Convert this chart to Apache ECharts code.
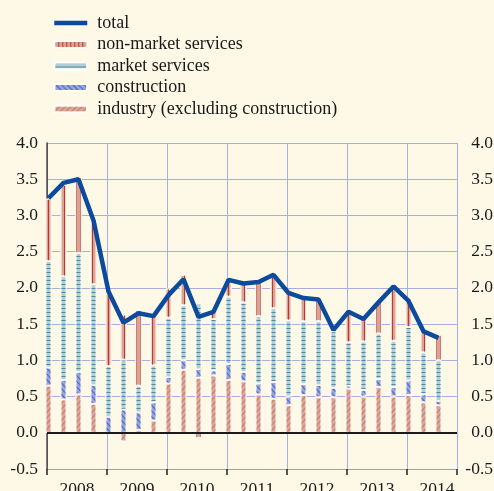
<!DOCTYPE html>
<html>
<head>
<meta charset="utf-8">
<script src="https://cdn.jsdelivr.net/npm/echarts@6/dist/echarts.min.js"></script>
<style>
  html, body { margin: 0; padding: 0; background: #fef9e6; }
  #chart { width: 494px; height: 491px; }
</style>
</head>
<body>
<div id="chart"></div>
<script>
// quarterly contributions, 2008Q1 .. 2014Q3 (last slot is empty room)
let quarters = [
  "2008Q1", "2008Q2", "2008Q3", "2008Q4",
  "2009Q1", "2009Q2", "2009Q3", "2009Q4",
  "2010Q1", "2010Q2", "2010Q3", "2010Q4",
  "2011Q1", "2011Q2", "2011Q3", "2011Q4",
  "2012Q1", "2012Q2", "2012Q3", "2012Q4",
  "2013Q1", "2013Q2", "2013Q3", "2013Q4",
  "2014Q1", "2014Q2", "2014Q3", "2014Q4",
];
let years = ["2008", "2009", "2010", "2011", "2012", "2013", "2014"];
let yTicks = [-0.5, 0, 0.5, 1, 1.5, 2, 2.5, 3, 3.5, 4];

let industry = [0.65, 0.46, 0.53, 0.40, 0.00, -0.12, 0.04, 0.17, 0.68, 0.87, 0.76, 0.79, 0.73, 0.71, 0.53, 0.47, 0.38, 0.52, 0.49, 0.49, 0.61, 0.50, 0.63, 0.50, 0.52, 0.42, 0.38];
let construction = [0.25, 0.27, 0.31, 0.26, 0.22, 0.32, 0.24, 0.25, 0.09, 0.13, 0.12, 0.07, 0.22, 0.13, 0.15, 0.23, 0.12, 0.15, 0.17, 0.13, 0.04, 0.09, 0.11, 0.13, 0.20, 0.11, 0.06];
let marketServices = [1.47, 1.43, 1.64, 1.39, 0.70, 0.69, 0.37, 0.51, 0.82, 0.76, 0.90, 0.71, 0.93, 0.96, 0.93, 1.02, 1.05, 0.87, 0.88, 0.78, 0.60, 0.67, 0.63, 0.64, 0.74, 0.58, 0.56];
let nonMarketServices = [0.86, 1.26, 1.04, 0.85, 1.00, 0.62, 1.04, 0.72, 0.40, 0.42, -0.07, 0.14, 0.23, 0.25, 0.47, 0.44, 0.39, 0.32, 0.31, 0.03, 0.44, 0.31, 0.43, 0.78, 0.40, 0.31, 0.35];
let total = [3.24, 3.45, 3.50, 2.93, 1.95, 1.52, 1.65, 1.61, 1.90, 2.12, 1.60, 1.67, 2.11, 2.06, 2.08, 2.18, 1.93, 1.86, 1.84, 1.42, 1.67, 1.57, 1.80, 2.02, 1.82, 1.40, 1.31];

let font = "Liberation Serif";
let textColor = "#1a1a1a";
let gridColor = "#a6afe0";
// frame axis counts in quarters, 15px each
let xMax = 27.33;

let yAxisBase = {
  type: "value",
  min: yTicks[0],
  max: yTicks[yTicks.length - 1],
  interval: 0.5,
};

let barSeries = (name, data, color, decal) => ({
  name: name,
  type: "bar",
  stack: "contrib",
  xAxisIndex: 2,
  yAxisIndex: 2,
  barWidth: 6,
  data: data,
  itemStyle: {
    color: color,
    borderColor: "#fffdf6",
    borderWidth: 0.8,
    decal: decal,
  },
});

let myChart = echarts.init(document.getElementById("chart"));
myChart.setOption({
  backgroundColor: "#fef9e6",
  animation: false,
  legend: {
    orient: "vertical",
    left: 47,
    top: 9,
    itemWidth: 33,
    itemHeight: 7,
    itemGap: 3.5,
    data: [
      {
        name: "total",
        itemStyle: { color: "rgba(0,0,0,0)", borderWidth: 0 },
        lineStyle: { color: "#0b4a9c", width: 4.5 },
      },
      "non-market services",
      "market services",
      "construction",
      "industry (excluding construction)",
    ],
    textStyle: {
      fontFamily: font,
      fontSize: 18,
      color: textColor,
      padding: [0, 0, 0, 5],
    },
  },
  grid: [
    // frame: year grid, labels, axes
    { left: 47, right: 37, top: 143, bottom: 22, outerBoundsMode: "none", containLabel: false },
    // bars + line, one 15px slot per quarter
    { left: 41, width: 420, top: 143, bottom: 22, outerBoundsMode: "none", containLabel: false },
  ],
  xAxis: [
    {
      // year labels, centred inside each year
      type: "value",
      gridIndex: 0,
      min: 0,
      max: xMax,
      interval: 2,
      position: "bottom",
      axisLine: { onZero: false, lineStyle: { color: "#9aa0c4", width: 1 } },
      axisTick: { show: false },
      splitLine: { show: false },
      axisLabel: {
        margin: 11,
        fontFamily: font,
        fontSize: 17.5,
        color: textColor,
        formatter: (v) => (v % 4 === 2 ? years[(v - 2) / 4] : ""),
      },
    },
    {
      // year boundaries: ticks and vertical grid
      type: "value",
      gridIndex: 0,
      min: 0,
      max: xMax,
      interval: 4,
      position: "bottom",
      axisLine: { show: false, onZero: false },
      axisTick: { show: true, length: 6, lineStyle: { color: "#222", width: 1.5 } },
      axisLabel: { show: false },
      splitLine: { show: true, lineStyle: { color: gridColor, width: 1 } },
    },
    {
      type: "category",
      gridIndex: 1,
      data: quarters,
      boundaryGap: true,
      show: false,
    },
  ],
  yAxis: [
    Object.assign({}, yAxisBase, {
      gridIndex: 0,
      position: "left",
      axisLine: { show: true, lineStyle: { color: "#555", width: 1 } },
      axisTick: { show: false },
      axisLabel: {
        margin: 9,
        fontFamily: font,
        fontSize: 17.5,
        color: textColor,
        formatter: (v) => v.toFixed(1),
      },
      splitLine: { lineStyle: { color: gridColor, width: 1 } },
    }),
    Object.assign({}, yAxisBase, {
      gridIndex: 0,
      position: "right",
      axisLine: { show: true, lineStyle: { color: "#555", width: 1.5 } },
      axisTick: { show: false },
      axisLabel: {
        margin: 36,
        align: "right",
        fontFamily: font,
        fontSize: 17.5,
        color: textColor,
        formatter: (v) => v.toFixed(1),
      },
      splitLine: { show: false },
    }),
    Object.assign({}, yAxisBase, {
      gridIndex: 1,
      show: false,
      splitLine: { show: false },
    }),
  ],
  series: [
    {
      // zero line only
      name: "zero",
      type: "line",
      xAxisIndex: 0,
      yAxisIndex: 0,
      data: [],
      markLine: {
        silent: true,
        symbol: "none",
        label: { show: false },
        lineStyle: { color: "#1a1a1a", width: 2, type: "solid" },
        data: [{ yAxis: 0 }],
      },
    },
    barSeries("industry (excluding construction)", industry, "#dba596", {
      symbol: "rect", symbolSize: 1, color: "rgba(170,70,60,0.45)",
      dashArrayX: [1, 3], dashArrayY: [4, 0], rotation: Math.PI / 4,
    }),
    barSeries("construction", construction, "#94a3dd", {
      symbol: "rect", symbolSize: 1, color: "rgba(30,60,150,0.6)",
      dashArrayX: [1, 3], dashArrayY: [4, 0], rotation: -Math.PI / 4,
    }),
    barSeries("market services", marketServices, "#b2ced6", {
      symbol: "rect", symbolSize: 1, color: "rgba(50,125,145,0.8)",
      dashArrayX: [4, 0], dashArrayY: [1, 3],
    }),
    barSeries("non-market services", nonMarketServices, "#dca392", {
      symbol: "rect", symbolSize: 1, color: "rgba(175,40,30,0.85)",
      dashArrayX: [1, 3], dashArrayY: [4, 0],
    }),
    {
      name: "total",
      type: "line",
      xAxisIndex: 2,
      yAxisIndex: 2,
      z: 5,
      data: total,
      symbol: "none",
      lineStyle: { color: "#0b4a9c", width: 4.5 },
      itemStyle: { color: "#0b4a9c" },
    },
  ],
});

window.addEventListener("resize", function () {
  myChart.resize();
});
</script>
</body>
</html>
